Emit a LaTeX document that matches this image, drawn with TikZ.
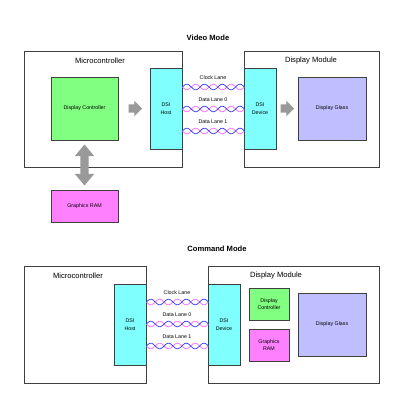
\documentclass[tikz,border=0pt]{standalone}
\usepackage{fontspec}
\setmainfont{Liberation Sans}
\usetikzlibrary{positioning,calc,shapes.arrows}
\definecolor{edge}{rgb}{0.25,0.25,0.25}
\definecolor{dcgreen}{rgb}{0.5,1,0.5}
\definecolor{dsicyan}{rgb}{0.5,1,1}
\definecolor{ramviolet}{rgb}{1,0.5,1}
\definecolor{glassblue}{rgb}{0.75,0.75,1}
\definecolor{wirepink}{rgb}{1,0.4,1}
\definecolor{wireblue}{rgb}{0.2,0.2,1}
\definecolor{arrgray}{rgb}{0.6,0.6,0.6}

\begin{document}
\begin{tikzpicture}[x=1pt,y=-1pt,
  frame/.style={draw=edge,fill=white,line width=0.8pt,inner sep=0pt},
  blk/.style={draw=edge,line width=0.8pt,inner sep=0pt,align=center,font=\fontsize{5.3}{7.6}\selectfont},
  big/.style={inner sep=0pt,font=\fontsize{7.6}{9}\selectfont},
  title/.style={inner sep=0pt,font=\fontsize{7.6}{9}\selectfont\bfseries},
  lane/.style={inner sep=0pt,font=\fontsize{5.3}{7}\selectfont},
  wire/.style={line width=0.7pt},
  pushr/.style={single arrow,fill=arrgray,inner sep=0pt,text height=8pt,text depth=0pt,minimum height=13.5pt,single arrow head extend=3.5pt},
  pushud/.style={double arrow,fill=arrgray,inner sep=0pt,text height=8pt,text depth=0pt,minimum height=41pt,double arrow head extend=5.5pt,double arrow tip angle=80,rotate=90}]
\useasboundingbox (0,0) rectangle (403,406);

% video mode
\node[title] (ttlA) at (208,38) {Video Mode};
\node[frame,minimum width=158pt,minimum height=116pt] (mcuA) at (103,109) {};
\node[frame,minimum width=135pt,minimum height=116pt] (dmA) at (311.5,109) {};
\node[big] (mcuAlbl) at (100,61) {Microcontroller};
\node[big] (dmAlbl) at (311,61) {Display Module};
\node[blk,fill=dcgreen,minimum width=67pt,minimum height=63pt] (dcA) at (84.5,108.5) {Display Controller};
\node[blk,fill=dsicyan,minimum width=32pt,minimum height=81pt] (hostA) at (166,108.5) {DSI\\Host};
\node[blk,fill=ramviolet,minimum width=67pt,minimum height=32pt] (ramA) at (84.5,206) {Graphics RAM};
\node[blk,fill=dsicyan,minimum width=32pt,minimum height=81pt] (devA) at (260,108.5) {DSI\\Device};
\node[blk,fill=glassblue,minimum width=68pt,minimum height=63pt] (glassA) at (332,108.5) {Display Glass};
\node[pushr,right=10pt of dcA] (arrA1) {};
\node[pushr,right=4pt of devA] (arrA2) {};
\node[pushud] (arrA3) at ($(dcA.south)!0.5!(ramA.north)$) {};
\foreach \ly/\lab in {87/Clock Lane,109/Data Lane 0,131/Data Lane 1} {
  \begin{scope}[shift={(hostA.east |- 0,\ly)}]
    \draw[wire,wirepink] plot[domain=0:62,samples=90,smooth,variable=\t] (\t,{2.8*sin(\t*20.32)});
    \draw[wire,wireblue] plot[domain=0:62,samples=90,smooth,variable=\t] (\t,{-2.8*sin(\t*20.32)});
  \end{scope}
  \path (hostA.east |- 0,\ly) -- (devA.west |- 0,\ly) node[lane,midway,above=7.5pt] (lblA\ly) {\lab};
}

% command mode
\node[title] (ttlB) at (217,249) {Command Mode};
\node[frame,minimum width=122pt,minimum height=117pt] (mcuB) at (85,324.5) {};
\node[frame,minimum width=171pt,minimum height=117pt] (dmB) at (293.5,324.5) {};
\node[big] (mcuBlbl) at (78,276) {Microcontroller};
\node[big] (dmBlbl) at (276,276) {Display Module};
\node[blk,fill=dsicyan,minimum width=32pt,minimum height=81pt] (hostB) at (130,324.5) {DSI\\Host};
\node[blk,fill=dsicyan,minimum width=32pt,minimum height=81pt] (devB) at (224,324.5) {DSI\\Device};
\node[blk,fill=dcgreen,minimum width=40pt,minimum height=32pt] (dcB) at (269,304) {Display\\Controller};
\node[blk,fill=ramviolet,minimum width=40pt,minimum height=32pt] (ramB) at (269,345) {Graphics\\RAM};
\node[blk,fill=glassblue,minimum width=68pt,minimum height=63pt] (glassB) at (332,324.5) {Display Glass};
\foreach \ly/\lab in {302/Clock Lane,324/Data Lane 0,346/Data Lane 1} {
  \begin{scope}[shift={(hostB.east |- 0,\ly)}]
    \draw[wire,wirepink] plot[domain=0:62,samples=90,smooth,variable=\t] (\t,{2.8*sin(\t*20.32)});
    \draw[wire,wireblue] plot[domain=0:62,samples=90,smooth,variable=\t] (\t,{-2.8*sin(\t*20.32)});
  \end{scope}
  \path (hostB.east |- 0,\ly) -- (devB.west |- 0,\ly) node[lane,midway,above=7.5pt] (lblB\ly) {\lab};
}
\end{tikzpicture}
\end{document}
